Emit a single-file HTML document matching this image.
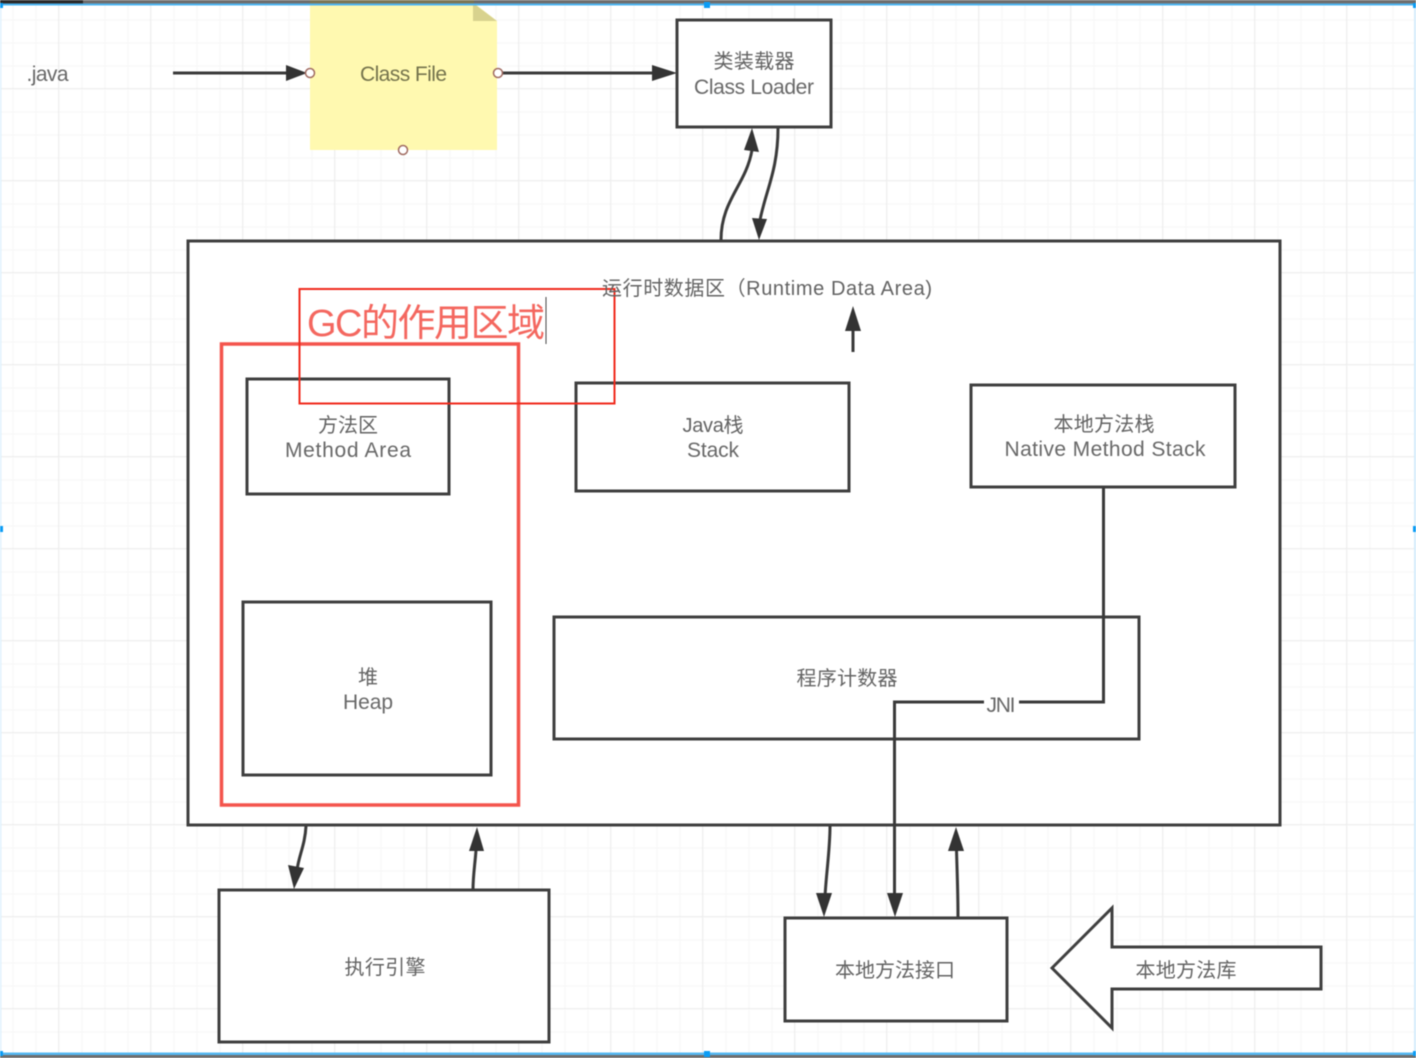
<!DOCTYPE html>
<html><head><meta charset="utf-8">
<style>
html,body{margin:0;padding:0;background:#fff;width:1416px;height:1058px;overflow:hidden}
svg{display:block;filter:blur(.45px)}
text{font-family:"Liberation Sans","Noto Sans CJK SC",sans-serif;font-size:20px;fill:#636363;text-anchor:middle}
text.e{font-size:21px;fill:#686868}
.b{fill:#fff;stroke:#3f3f3f;stroke-width:3}
.l{fill:none;stroke:#3a3a3a;stroke-width:3}
.a{fill:#333;stroke:none}
.c{fill:#fff;stroke:#a06a60;stroke-width:1.500}
</style></head><body>
<svg width="1416" height="1058" viewBox="0 0 1416 1058" xmlns="http://www.w3.org/2000/svg">
<defs>
<pattern id="g" x="12.500" y="19.500" width="23" height="23" patternUnits="userSpaceOnUse"><path d="M.5 0V23M0 .5H23" stroke="#f6f6f6" stroke-width="1" fill="none"/></pattern>
<pattern id="G" x="58" y="88" width="92" height="92" patternUnits="userSpaceOnUse"><path d="M.5 0V92M0 .5H92" stroke="#eeeeee" stroke-width="1" fill="none"/></pattern>
</defs>
<rect width="1416" height="1058" fill="#fff"/>
<rect width="1416" height="1058" fill="url(#g)"/>
<rect width="1416" height="1058" fill="url(#G)"/>

<!-- note -->
<path d="M310 3H474L497 21V150H310Z" fill="#fff9b0"/>
<path d="M473 3L497 21H473Z" fill="#d8d28e"/>

<!-- top connectors -->
<path class="l" d="M173 73H290"/>
<path class="a" d="M286 65L307 73L286 81Z"/>
<path class="l" d="M498 73H656"/>
<path class="a" d="M652 65L677 73L652 81Z"/>
<circle class="c" cx="310" cy="73" r="4.500"/>
<circle class="c" cx="498" cy="73" r="4.500"/>
<circle class="c" cx="403" cy="150" r="4.500"/>

<rect class="b" x="677" y="20" width="154" height="107"/>

<!-- main box -->
<rect class="b" x="188" y="241" width="1092" height="584"/>

<!-- class loader curved links -->
<path class="l" d="M721 240C721 200 746 185 752 150"/>
<path class="a" d="M752 128L759 152L744 150Z"/>
<path class="l" d="M778 128C778 170 766 190 760 220"/>
<path class="a" d="M759 240L752 218L767 219Z"/>

<!-- inner boxes -->
<rect class="b" x="247" y="379" width="202" height="115"/>
<rect class="b" x="576" y="383" width="273" height="108"/>
<rect class="b" x="971" y="385" width="264" height="102"/>
<rect class="b" x="243" y="602" width="248" height="173"/>
<rect class="b" x="554" y="617" width="585" height="122"/>

<!-- red boxes -->
<rect x="221.500" y="344" width="297" height="461" fill="none" stroke="#f4544c" stroke-width="3.500"/>
<rect x="299.500" y="289" width="315" height="114.500" fill="none" stroke="#f02a1c" stroke-width="2"/>

<!-- runtime arrow -->
<path class="l" d="M853 352V328"/>
<path class="a" d="M853 306L861 331H845Z"/>

<!-- lower -->
<rect class="b" x="219" y="890" width="330" height="152"/>
<rect class="b" x="785" y="918" width="222" height="103"/>
<path class="l" d="M306 826C305 845 299 855 297 870"/>
<path class="a" d="M294 889L288 865L304 868Z"/>
<path class="l" d="M473 890C473 875 475 865 476 850"/>
<path class="a" d="M477 827L484 851L469 851Z"/>
<path class="l" d="M830 826C830 850 826 875 825 897"/>
<path class="a" d="M824 917L816 893L832 893Z"/>
<path class="l" d="M958 917C958 890 957 870 956.500 850"/>
<path class="a" d="M956 827L964 851L948 851Z"/>

<!-- JNI -->
<path class="l" d="M1103.500 487V702H1019M984 702H894.500V897"/>
<path class="a" d="M895 917L887 893H903Z"/>

<!-- library arrow -->
<path d="M1052 968L1112 908V947H1321V989H1112V1028Z" fill="#fff" stroke="#3f3f3f" stroke-width="3" stroke-linejoin="miter"/>

<!-- labels -->
<text class="e" x="47.500" y="81" textLength="42">.java</text>
<text class="e" x="403.500" y="81" textLength="87" style="fill:#74734c">Class File</text>
<text x="754" y="68" textLength="81">类装载器</text>
<text class="e" x="754" y="94" textLength="120">Class Loader</text>
<text x="767" y="295" textLength="330">运行时数据区（Runtime Data Area)</text>
<text x="426" y="336" textLength="238" style="font-size:38px;fill:#f4675f">GC的作用区域</text>
<path d="M546 297V344" stroke="#444" stroke-width="1"/>
<text x="348" y="432" textLength="60">方法区</text>
<text class="e" x="348" y="457" textLength="126">Method Area</text>
<text x="713" y="432" textLength="61">Java栈</text>
<text class="e" x="713" y="457" textLength="52">Stack</text>
<text x="1104" y="431" textLength="101">本地方法栈</text>
<text class="e" x="1105" y="456" textLength="201">Native Method Stack</text>
<text x="368" y="684" textLength="20">堆</text>
<text class="e" x="368" y="709" textLength="50">Heap</text>
<text x="847" y="685" textLength="101">程序计数器</text>
<text class="e" x="1001" y="712" textLength="29">JNI</text>
<text x="385" y="974" textLength="81">执行引擎</text>
<text x="895" y="977" textLength="120">本地方法接口</text>
<text x="1186" y="977" textLength="101">本地方法库</text>

<!-- frame -->
<rect x="0" y="0" width="1416" height="3.500" fill="#6e6e6e"/>
<rect x="0" y="0" width="83" height="3.500" fill="#2a2a2a"/>
<rect x="310" y="0" width="164" height="3.500" fill="#7b7656"/>
<rect x="0" y="3.500" width="1416" height="2" fill="#4db4f0"/>
<rect x="0" y="1052.500" width="1416" height="2.500" fill="#55b8f2"/>
<rect x="0" y="1055" width="1416" height="3" fill="#6e6e6e"/>
<rect x="0" y="5" width="1.500" height="1048" fill="#e0f2fd"/>
<rect x="1414" y="5" width="2" height="1048" fill="#d5edfc"/>
<rect x="704" y="2" width="6" height="6" fill="#0a9cf5"/>
<rect x="704" y="1051" width="6" height="6" fill="#0a9cf5"/>
<rect x="0" y="526" width="3" height="6" fill="#0a9cf5"/>
<rect x="1413" y="526" width="3" height="6" fill="#0a9cf5"/>
<rect x="0" y="3" width="3" height="5" fill="#0a9cf5"/>
<rect x="1413" y="3" width="3" height="5" fill="#0a9cf5"/>
<rect x="0" y="1051" width="3" height="5" fill="#0a9cf5"/>
<rect x="1413" y="1051" width="3" height="5" fill="#0a9cf5"/>
</svg>
</body></html>
